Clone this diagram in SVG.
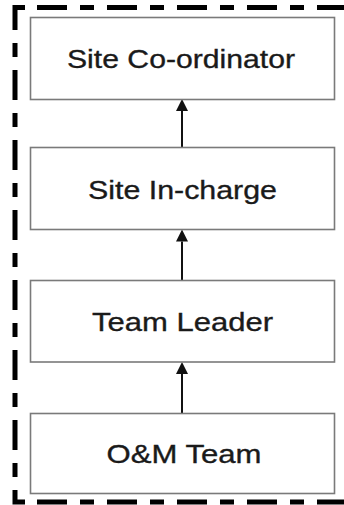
<svg xmlns="http://www.w3.org/2000/svg" width="344" height="505" viewBox="0 0 344 505">
  <style>
    .frame { fill: none; stroke: #000; stroke-width: 5; stroke-linecap: butt; stroke-linejoin: miter; }
    .dash { stroke-dasharray: 30 13 14 13; }
    .dashv { stroke-dasharray: 14 13 30 13; }
    .box { fill: #fff; stroke: #7a7a7a; stroke-width: 1.6; }
    .label { font-family: "Liberation Sans", Arial, sans-serif; font-size: 26.5px; fill: #1a1a1a; stroke: #1a1a1a; stroke-width: 0.35; text-anchor: middle; }
    .conn { stroke: #111; stroke-width: 2; fill: none; }
  </style>
  <defs>
    <marker id="arrow" viewBox="0 0 12 12" markerWidth="12" markerHeight="12" refX="0" refY="6" orient="auto" markerUnits="userSpaceOnUse">
      <path d="M0,0 L12,6 L0,12 z" fill="#111"/>
    </marker>
  </defs>
  <rect width="344" height="505" fill="#fff"/>

  <g id="frame">
    <path class="frame dash" d="M37 7.5 H344"/>
    <path class="frame dash" d="M37 502 H344"/>
    <path class="frame dashv" d="M15 43 V478"/>
    <path class="frame" d="M25 7.5 H15 V30"/>
    <path class="frame" d="M15 490 V502 H25"/>
  </g>

  <g id="connectors">
    <line class="conn" x1="182" y1="147.5" x2="182" y2="111" marker-end="url(#arrow)"/>
    <line class="conn" x1="182" y1="280.5" x2="182" y2="241.5" marker-end="url(#arrow)"/>
    <line class="conn" x1="182" y1="413.5" x2="182" y2="374" marker-end="url(#arrow)"/>
  </g>

  <g id="site-coordinator">
    <rect class="box" x="30.5" y="17.5" width="304" height="82"/>
    <text class="label" x="181" y="68" textLength="228" lengthAdjust="spacingAndGlyphs">Site Co-ordinator</text>
  </g>
  <g id="site-incharge">
    <rect class="box" x="30.5" y="147.5" width="304" height="82"/>
    <text class="label" x="182.5" y="199" textLength="189" lengthAdjust="spacingAndGlyphs">Site In-charge</text>
  </g>
  <g id="team-leader">
    <rect class="box" x="30.5" y="280.5" width="304" height="81.5"/>
    <text class="label" x="182.5" y="331" textLength="181" lengthAdjust="spacingAndGlyphs">Team Leader</text>
  </g>
  <g id="om-team">
    <rect class="box" x="30.5" y="413.5" width="304" height="80"/>
    <text class="label" x="184" y="463" textLength="155" lengthAdjust="spacingAndGlyphs">O&amp;M Team</text>
  </g>
</svg>
